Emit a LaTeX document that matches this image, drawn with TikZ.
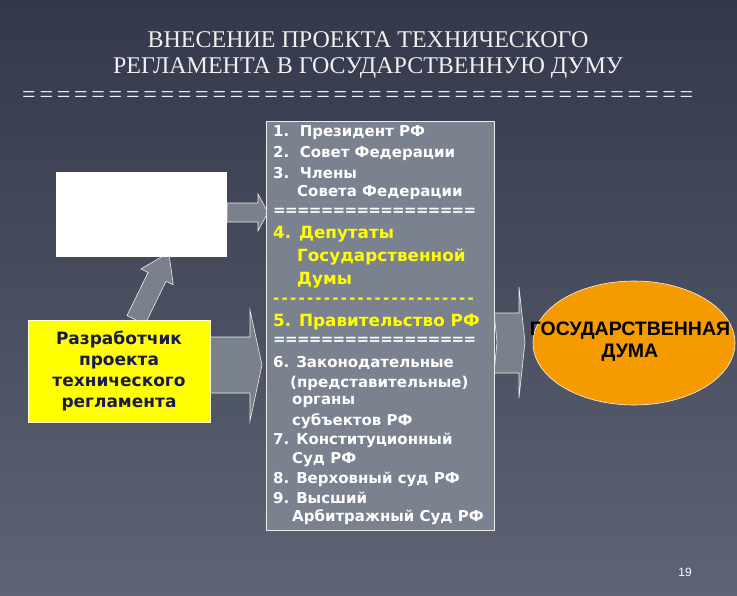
\documentclass[tikz,border=0pt]{standalone}
\usepackage{fontspec}
\setmainfont{Liberation Serif}
\newfontfamily\vfont{DejaVu Sans}
\newfontfamily\afont{Liberation Sans}
\usetikzlibrary{shapes.geometric}
\definecolor{bgtop}{HTML}{33384A}
\definecolor{bgbot}{HTML}{5E6474}
\definecolor{boxgray}{HTML}{7B828F}
\definecolor{arrgray}{HTML}{7A808C}
\definecolor{navy}{HTML}{1A1A50}
\definecolor{orng}{HTML}{F59A00}
\definecolor{yel}{HTML}{FFFF00}
\begin{document}
\begin{tikzpicture}[x=1pt,y=-1pt,
  title/.style={font=\fontsize{24}{24}\selectfont, text=white!88!gray},
  item/.style={anchor=west, inner sep=0, font=\vfont\bfseries\fontsize{15}{15}\selectfont, text=white},
  bigitem/.style={anchor=west, inner sep=0, font=\vfont\bfseries\fontsize{16.8}{16.8}\selectfont, text=yel},
  arr/.style={fill=arrgray, draw=white!85!gray, line width=0.6pt}]
\shade[top color=bgtop, bottom color=bgbot] (0,0) rectangle (737,595);
\useasboundingbox (0,0) rectangle (737,595);
% title
\node[title] (t1) at (368,40) {ВНЕСЕНИЕ ПРОЕКТА ТЕХНИЧЕСКОГО};
\node[title] (t2) at (368,68) {РЕГЛАМЕНТА В ГОСУДАРСТВЕННУЮ ДУМУ};
\foreach \i in {0,...,38} \node[title,inner sep=0] at (29+\i*17.3,97) {=};
% arrows
\draw[arr] (227,203) -- (258,203) -- (258,194) -- (268,212.5) -- (258,231) -- (258,222) -- (227,222) -- cycle;
\draw[arr] (205,337) -- (250,337) -- (250,310) -- (262,365) -- (250,421) -- (250,393) -- (205,393) -- cycle;
\draw[arr] (494,313) -- (519,313) -- (519,287) -- (525,342) -- (519,398) -- (519,373) -- (494,373) -- (497,342) -- cycle;
\begin{scope}[shift={(136,320)}, rotate=64]
\draw[arr] (0,-10) -- (48,-10) -- (48,-18) -- (75,0) -- (48,18) -- (48,10) -- (0,10) -- cycle;
\end{scope}
% boxes
\node[fill=white, minimum width=171pt, minimum height=85pt, inner sep=0] (wb) at (141.5,214.5) {};
\node[fill=yel, draw=white!80!yellow, line width=0.6pt, minimum width=182pt, minimum height=102pt, inner sep=0, align=center,
  font=\vfont\bfseries\fontsize{17}{21}\selectfont, text=navy] (dev) at (119,371) {Разработчик\\проекта\\технического\\регламента};
\node[fill=boxgray, draw=white!85!gray, line width=0.6pt, minimum width=228pt, minimum height=409pt, inner sep=0] (list) at (380,325.5) {};
% list
\node[item] (l1) at (273,133) {1.~~Президент РФ};
\node[item] (l2) at (273,153) {2.~~Совет Федерации};
\node[item] (l3) at (273,173) {3.~~Члены};
\node[item] (l3b) at (297,192) {Совета Федерации};
\foreach \i in {0,...,16} \node[item] at (273+\i*11.9,212) {=};
\node[bigitem] (l4) at (273,234) {4. Депутаты};
\node[bigitem] (l4b) at (297,257) {Государственной};
\node[bigitem] (l4c) at (297,280) {Думы};
\foreach \i in {0,...,23} \node[item,text=yel] at (273+\i*8.45,301) {-};
\node[bigitem] (l5) at (273,322) {5. Правительство РФ};
\foreach \i in {0,...,16} \node[item] at (273+\i*11.9,341) {=};
\node[item] (l6) at (273,363) {6. Законодательные};
\node[item] (l6b) at (290,383) {(представительные)};
\node[item] (l6c) at (292,402) {органы};
\node[item] (l6d) at (292,421) {субъектов РФ};
\node[item] (l7) at (273,440) {7. Конституционный};
\node[item] (l7b) at (292,460) {Суд РФ};
\node[item] (l8) at (273,479) {8. Верховный суд РФ};
\node[item] (l9) at (273,498) {9. Высший};
\node[item] (l9b) at (292,517) {Арбитражный Суд РФ};
% ellipse
\node[ellipse, fill=orng, draw=white!90!orange, line width=0.6pt, minimum width=202pt, minimum height=124pt, inner sep=0] (gd) at (634,343) {};
\node[align=center, font=\afont\bfseries\fontsize{19.5}{22}\selectfont, text=black] (gdt) at (630,342) {ГОСУДАРСТВЕННАЯ\\ДУМА};
\node[font=\afont\fontsize{12}{12}\selectfont, text=white] (pg) at (685,572) {19};
\end{tikzpicture}
\end{document}
